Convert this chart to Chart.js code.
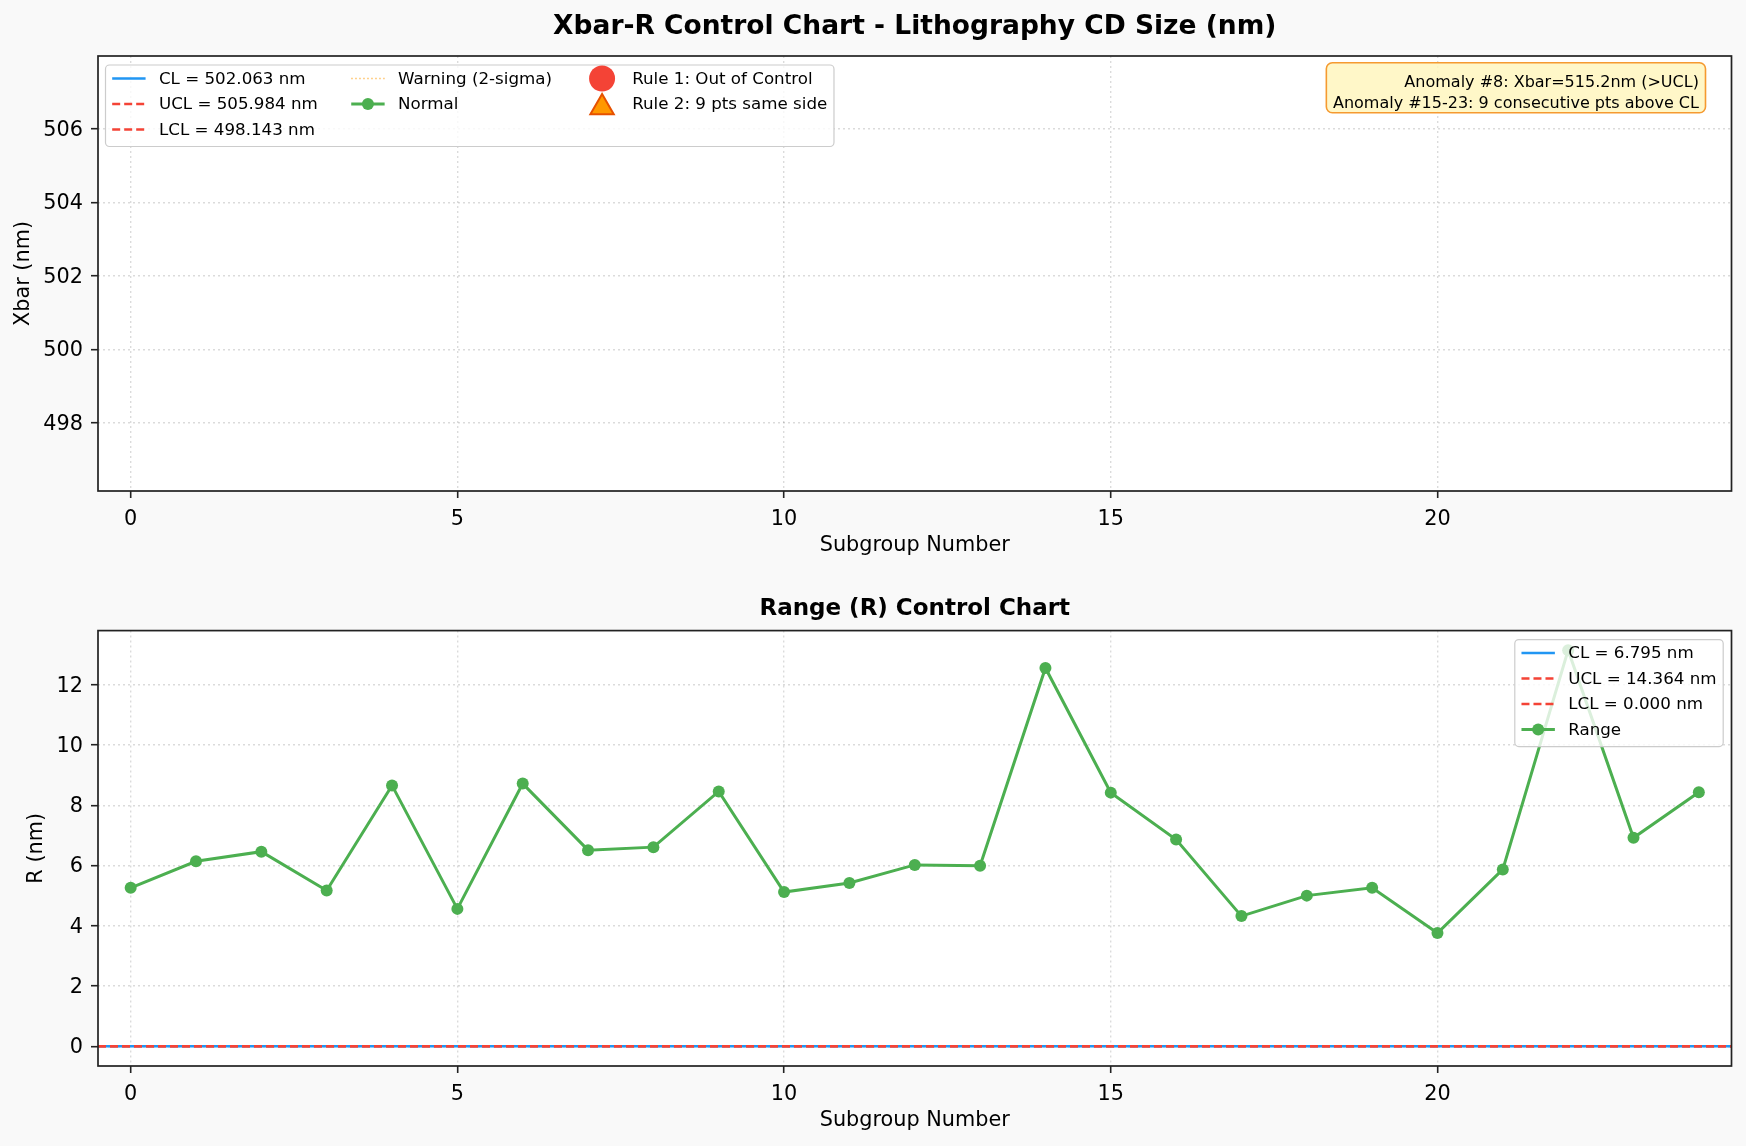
<!DOCTYPE html>
<html>
<head>
<meta charset="utf-8">
<title>Xbar-R Control Chart</title>
<script src="https://cdn.jsdelivr.net/npm/chart.js@4.4.1/dist/chart.umd.min.js"></script>
<style>
    html, body { margin: 0; padding: 0; background: #f9f9f9; }
    #wrap { position: relative; width: 1746px; height: 1146px; overflow: hidden; }
    canvas { position: absolute; left: 0; }
    #xbarChart { top: 0; width: 1746px; height: 561px; }
    #rangeChart { top: 565px; width: 1746px; height: 581px; }
</style>
</head>
<body>
<div id="wrap">
    <canvas id="xbarChart" width="1746" height="561"></canvas>
    <canvas id="rangeChart" width="1746" height="581"></canvas>
</div>
<script>
// --- Data ---
const subgroups = [0, 1, 2, 3, 4, 5, 6, 7, 8, 9, 10, 11, 12, 13, 14, 15, 16, 17, 18, 19, 20, 21, 22, 23, 24];
const rangeValues = [5.26, 6.14, 6.46, 5.17, 8.66, 4.56, 8.72, 6.51, 6.61, 8.46, 5.12, 5.42, 6.02, 5.99, 12.56, 8.42, 6.86, 4.32, 5.00, 5.26, 3.76, 5.87, 13.15, 6.92, 8.43];
// no Xbar point falls inside the visible window of the upper panel
const xbarValues = [];

const xbarCL = 502.063, xbarUCL = 505.984, xbarLCL = 498.143;
const rCL = 6.795, rUCL = 14.364, rLCL = 0.000;
const rLimitLevel = 0; // the R-chart limit lines all show up on the zero line

const xTicks = [0, 5, 10, 15, 20];
const xbarTicks = [498, 500, 502, 504, 506];
const rTicks = [0, 2, 4, 6, 8, 10, 12];
const X_MIN = -0.5, X_MAX = 24.5;
const XBAR_MIN = 496.143, XBAR_MAX = 507.984;
const R_MIN = -0.657, R_MAX = 13.8;

const anomalyNotes = ['Anomaly #8: Xbar=515.2nm (>UCL)', 'Anomaly #15-23: 9 consecutive pts above CL'];

// --- Colours ---
const BLUE = '#2196F3', RED = '#F44336', GREEN = '#4CAF50', ORANGE = '#FF9800';
const FONT = '"DejaVu Sans", "Liberation Sans", sans-serif';

Chart.defaults.font.family = FONT;
Chart.defaults.color = '#000';

// --- Plugins ---

// white plot area + dark spines like matplotlib
const frame = {
    id: 'frame',
    beforeDraw(chart) {
        const { ctx, chartArea: a } = chart;
        ctx.save();
        ctx.fillStyle = '#ffffff';
        ctx.fillRect(a.left, a.top, a.right - a.left, a.bottom - a.top);
        ctx.restore();
    },
    afterDatasetsDraw(chart) {
        const { ctx, chartArea: a } = chart;
        ctx.save();
        ctx.strokeStyle = '#222';
        ctx.lineWidth = 1.7;
        ctx.strokeRect(a.left, a.top, a.right - a.left, a.bottom - a.top);
        ctx.restore();
    }
};

// column-major legend box, drawn from the datasets' own styles
const mplLegend = {
    id: 'mplLegend',
    afterDraw(chart, args, opts) {
        if (!opts.show) return;
        const { ctx, chartArea: a } = chart;
        const fs = 16.7;
        const handleLen = 2 * fs, textPad = 0.8 * fs, colGap = 2 * fs, borderPad = 0.4 * fs;
        const rowH = 25.5;
        const sets = chart.data.datasets;
        const ncol = opts.ncol || 1;

        ctx.save();
        ctx.font = `${fs}px ${FONT}`;

        // split like numpy.array_split
        const cols = [];
        const base = Math.floor(sets.length / ncol), extra = sets.length % ncol;
        let k = 0;
        for (let c = 0; c < ncol; c++) {
            const n = base + (c < extra ? 1 : 0);
            cols.push(sets.slice(k, k + n));
            k += n;
        }
        const nrow = Math.max(...cols.map(c => c.length));
        const colW = cols.map(c => handleLen + textPad + Math.max(...c.map(d => ctx.measureText(d.label).width)));
        const boxW = 2 * borderPad + colW.reduce((s, w) => s + w, 0) + (ncol - 1) * colGap;
        const boxH = nrow * rowH + 5;
        const boxX = opts.align === 'right' ? a.right - 8.3 - boxW : a.left + 7.5;
        const boxY = a.top + 9;

        ctx.beginPath();
        ctx.roundRect(boxX, boxY, boxW, boxH, 4);
        ctx.fillStyle = 'rgba(255,255,255,0.8)';
        ctx.fill();
        ctx.strokeStyle = '#cccccc';
        ctx.lineWidth = 1.2;
        ctx.stroke();

        let cx = boxX + borderPad;
        cols.forEach((col, ci) => {
            col.forEach((ds, ri) => {
                const y = boxY + 13.5 + ri * rowH;
                if (ds.showLine !== false) {
                    ctx.beginPath();
                    ctx.setLineDash(ds.borderDash || []);
                    ctx.strokeStyle = ds.borderColor;
                    ctx.lineWidth = ds.borderWidth;
                    ctx.moveTo(cx, y);
                    ctx.lineTo(cx + handleLen, y);
                    ctx.stroke();
                    ctx.setLineDash([]);
                }
                const r = ds.pointRadius || 0;
                if (r > 0) {
                    const style = ds.pointStyle || 'circle';
                    ctx.fillStyle = ds.pointBackgroundColor || ds.backgroundColor;
                    ctx.strokeStyle = ds.pointBorderColor || ds.borderColor;
                    const bw = ds.pointBorderWidth || 0;
                    ctx.lineWidth = bw;
                    const dy = style === 'triangle' ? r / 4 : 0;
                    Chart.helpers.drawPoint(ctx, { pointStyle: style, radius: r, borderWidth: bw, rotation: 0 }, cx + handleLen / 2, y + dy);
                }
                ctx.fillStyle = '#000';
                ctx.textAlign = 'left';
                ctx.textBaseline = 'middle';
                ctx.fillText(ds.label, cx + handleLen + textPad, y + 1);
            });
            cx += colW[ci] + colGap;
        });
        ctx.restore();
    }
};

// anomaly note in the upper right corner
const noteBox = {
    id: 'noteBox',
    afterDraw(chart, args, opts) {
        if (!opts.lines) return;
        const { ctx, chartArea: a } = chart;
        ctx.save();
        ctx.font = `16px ${FONT}`;
        const w = Math.max(...opts.lines.map(t => ctx.measureText(t).width));
        const padX = 6.6, lineH = 21;
        const right = a.right - 26, top = a.top + 6.7;
        const bw = w + 2 * padX, bh = 50;
        ctx.beginPath();
        ctx.roundRect(right - bw, top, bw, bh, 6);
        ctx.fillStyle = 'rgba(255,246,190,0.85)';
        ctx.fill();
        ctx.strokeStyle = '#F59A30';
        ctx.lineWidth = 1.6;
        ctx.stroke();
        ctx.fillStyle = '#000';
        ctx.textAlign = 'right';
        ctx.textBaseline = 'middle';
        opts.lines.forEach((t, i) => ctx.fillText(t, right - padX, top + 19.8 + i * lineH));
        ctx.restore();
    }
};

// --- Shared axis setup ---
const buildScales = (yMin, yMax, yTicks, yTitle, yTitlePad, xHeight, xTitlePad) => {
    const grid = { color: 'rgba(0,0,0,0.14)', lineWidth: 1.4, tickColor: '#222', tickLength: 7, tickWidth: 1.6, tickBorderDash: [] };
    const border = { display: false, dash: [2, 3] };
    return {
        x: {
            type: 'linear', min: X_MIN, max: X_MAX, grid, border,
            afterBuildTicks: s => { s.ticks = xTicks.map(v => ({ value: v })); },
            afterFit: s => { s.height = xHeight; },
            ticks: { font: { size: 20.8 }, padding: 9, maxRotation: 0, color: '#000' },
            title: { display: true, text: 'Subgroup Number', font: { size: 20.8 }, color: '#000', padding: { top: 0, bottom: xTitlePad } }
        },
        y: {
            type: 'linear', min: yMin, max: yMax, grid, border,
            afterBuildTicks: s => { s.ticks = yTicks.map(v => ({ value: v })); },
            afterFit: s => { s.width = 98; },
            ticks: { font: { size: 20.8 }, padding: 8, labelOffset: 1.5, color: '#000' },
            title: { display: true, text: yTitle, font: { size: 20.8 }, color: '#000', padding: { top: yTitlePad, bottom: 0 } }
        }
    };
};

const limitLine = level => [{ x: X_MIN, y: level }, { x: X_MAX, y: level }];

// --- Xbar chart ---
new Chart(document.getElementById('xbarChart').getContext('2d'), {
    type: 'line',
    data: {
        datasets: [
            { label: `CL = ${xbarCL.toFixed(3)} nm`, data: [], borderColor: BLUE, borderWidth: 2.5, pointRadius: 0 },
            { label: `UCL = ${xbarUCL.toFixed(3)} nm`, data: [], borderColor: RED, borderWidth: 2.5, borderDash: [8, 4], pointRadius: 0 },
            { label: `LCL = ${xbarLCL.toFixed(3)} nm`, data: [], borderColor: RED, borderWidth: 2.5, borderDash: [8, 4], pointRadius: 0 },
            { label: 'Warning (2-sigma)', data: [], borderColor: 'rgba(255,152,0,0.6)', borderWidth: 1.5, borderDash: [1.5, 2.5], pointRadius: 0 },
            { label: 'Normal', data: xbarValues, borderColor: GREEN, backgroundColor: GREEN, pointBackgroundColor: GREEN, borderWidth: 3, pointRadius: 6, pointBorderWidth: 0 },
            { label: 'Rule 1: Out of Control', data: [], showLine: false, backgroundColor: RED, pointBackgroundColor: RED, pointBorderColor: RED, pointRadius: 13, pointBorderWidth: 0 },
            { label: 'Rule 2: 9 pts same side', data: [], showLine: false, pointStyle: 'triangle', backgroundColor: ORANGE, pointBackgroundColor: ORANGE, pointBorderColor: '#E65100', pointRadius: 13.5, pointBorderWidth: 2 }
        ]
    },
    options: {
        responsive: false,
        animation: false,
        layout: { padding: { left: 0, right: 14.5, top: 0, bottom: 0 } },
        plugins: {
            legend: { display: false },
            tooltip: { enabled: false },
            title: {
                display: true, fullSize: false, text: 'Xbar-R Control Chart - Lithography CD Size (nm)',
                color: '#000', font: { size: 26.5, weight: 'bold' }, padding: { top: 11, bottom: 13.2 }
            },
            mplLegend: { show: true, ncol: 3, align: 'left' },
            noteBox: { lines: anomalyNotes }
        },
        scales: buildScales(XBAR_MIN, XBAR_MAX, xbarTicks, 'Xbar (nm)', 11, 70, 3)
    },
    plugins: [frame, mplLegend, noteBox]
});

// --- Range chart ---
new Chart(document.getElementById('rangeChart').getContext('2d'), {
    type: 'line',
    data: {
        datasets: [
            { label: `CL = ${rCL.toFixed(3)} nm`, data: limitLine(rLimitLevel), borderColor: BLUE, borderWidth: 2.5, pointRadius: 0, order: 3 },
            { label: `UCL = ${rUCL.toFixed(3)} nm`, data: limitLine(rLimitLevel), borderColor: RED, borderWidth: 2.5, borderDash: [8, 4], pointRadius: 0, order: 2 },
            { label: `LCL = ${rLCL.toFixed(3)} nm`, data: limitLine(rLimitLevel), borderColor: RED, borderWidth: 2.5, borderDash: [8, 4], pointRadius: 0, order: 1 },
            {
                label: 'Range', data: subgroups.map((s, i) => ({ x: s, y: rangeValues[i] })),
                borderColor: GREEN, backgroundColor: GREEN, pointBackgroundColor: GREEN, borderWidth: 3,
                pointRadius: 6, pointBorderWidth: 0, order: 0
            }
        ]
    },
    options: {
        responsive: false,
        animation: false,
        layout: { padding: { left: 0, right: 14.5, top: 0, bottom: 0 } },
        plugins: {
            legend: { display: false },
            tooltip: { enabled: false },
            title: {
                display: true, fullSize: false, text: 'Range (R) Control Chart',
                color: '#000', font: { size: 23, weight: 'bold' }, padding: { top: 30, bottom: 8 }
            },
            mplLegend: { show: true, ncol: 1, align: 'right' }
        },
        scales: buildScales(R_MIN, R_MAX, rTicks, 'R (nm)', 24, 80, 13)
    },
    plugins: [frame, mplLegend]
});
</script>
</body>
</html>
